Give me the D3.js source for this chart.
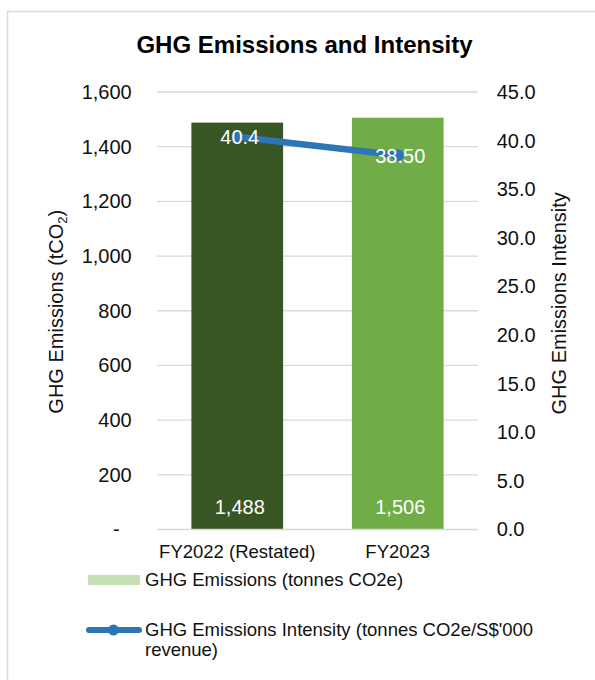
<!DOCTYPE html>
<html>
<head>
<meta charset="utf-8">
<script src="https://cdn.jsdelivr.net/npm/d3@7"></script>
<style>
  html, body { margin: 0; padding: 0; background: #fff; }
  svg { display: block; font-family: "Liberation Sans", Arial, sans-serif; }
</style>
</head>
<body>
<svg id="chart" width="595" height="680"></svg>
<script>
// ---- data ----
const categories = ["FY2022 (Restated)", "FY2023"];
const emissions = [1488, 1506];
const emissionLabels = ["1,488", "1,506"];
const intensity = [40.4, 38.5];
const intensityLabels = ["40.4", "38.50"];
const barColors = ["#375623", "#70AD47"];
const leftTicks = [0, 200, 400, 600, 800, 1000, 1200, 1400, 1600];
const leftTickLabels = ["-", "200", "400", "600", "800", "1,000", "1,200", "1,400", "1,600"];
const rightTicks = [0, 5, 10, 15, 20, 25, 30, 35, 40, 45];
const rightTickLabels = ["0.0", "5.0", "10.0", "15.0", "20.0", "25.0", "30.0", "35.0", "40.0", "45.0"];
const titleText = "GHG Emissions and Intensity";
const legendBarText = "GHG Emissions (tonnes CO2e)";
const legendLineText = ["GHG Emissions Intensity (tonnes CO2e/S$'000", "revenue)"];

// ---- layout ----
const svg = d3.select("#chart");
const plot = { left: 157, right: 478, top: 92, bottom: 529.5 };
const textColor = "#111";
const gridColor = "#d9d9d9";
const lineColor = "#2E75B6";

// frame
svg.append("rect").attr("x", 7.5).attr("y", 11.5).attr("width", 700).attr("height", 800)
  .attr("fill", "#fff").attr("stroke", "#d9d9d9").attr("stroke-width", 1.5);

const x = d3.scaleBand().domain(categories).range([plot.left, plot.right])
  .paddingInner(0.4286).paddingOuter(0.2143);
const yL = d3.scaleLinear().domain([0, 1600]).range([plot.bottom, plot.top]);
const yR = d3.scaleLinear().domain([0, 45]).range([plot.bottom, plot.top]);

// title
svg.append("text").attr("x", 304.5).attr("y", 53.3).attr("text-anchor", "middle")
  .attr("font-size", 24).attr("font-weight", "bold").attr("fill", "#000").text(titleText);

// gridlines
svg.append("g").selectAll("line").data(leftTicks.filter(d => d > 0)).join("line")
  .attr("x1", plot.left).attr("x2", plot.right)
  .attr("y1", d => yL(d)).attr("y2", d => yL(d))
  .attr("stroke", gridColor).attr("stroke-width", 1.3);

// bars
svg.append("g").selectAll("rect").data(categories).join("rect")
  .attr("x", d => x(d)).attr("width", x.bandwidth())
  .attr("y", (d, i) => yL(emissions[i]))
  .attr("height", (d, i) => yL(0) - yL(emissions[i]))
  .attr("fill", (d, i) => barColors[i]);

// baseline axis line
svg.append("line").attr("x1", plot.left).attr("x2", plot.right)
  .attr("y1", yL(0)).attr("y2", yL(0)).attr("stroke", gridColor).attr("stroke-width", 1.6);

// left axis
const gL = svg.append("g").attr("transform", `translate(${plot.left},0)`)
  .call(d3.axisLeft(yL).tickValues(leftTicks).tickFormat((d, i) => leftTickLabels[i])
    .tickSize(0).tickPadding(25.3));
gL.select(".domain").remove();
gL.selectAll("text").attr("font-size", 20).attr("fill", textColor)
  .attr("font-family", "Liberation Sans, Arial, sans-serif")
  .attr("dx", (d, i) => i === 0 ? -12 : 0);

// right axis
const gR = svg.append("g").attr("transform", `translate(${plot.right},0)`)
  .call(d3.axisRight(yR).tickValues(rightTicks).tickFormat((d, i) => rightTickLabels[i])
    .tickSize(0).tickPadding(18.7));
gR.select(".domain").remove();
gR.selectAll("text").attr("font-size", 20).attr("fill", textColor)
  .attr("font-family", "Liberation Sans, Arial, sans-serif");

// category labels
svg.append("g").selectAll("text").data(categories).join("text")
  .attr("x", d => x(d) + x.bandwidth() / 2).attr("y", 558.3)
  .attr("text-anchor", "middle").attr("font-size", 18.5).attr("fill", textColor)
  .text(d => d);

// axis titles
const lt = svg.append("text").attr("transform", "translate(62.5,311.7) rotate(-90)")
  .attr("text-anchor", "middle").attr("font-size", 20).attr("fill", textColor);
lt.append("tspan").text("GHG Emissions (tCO");
lt.append("tspan").attr("font-size", 13).attr("dy", 4).text("2");
lt.append("tspan").attr("dy", -4).text(")");

svg.append("text").attr("transform", "translate(565.5,303.3) rotate(-90)")
  .attr("text-anchor", "middle").attr("font-size", 20).attr("fill", textColor)
  .text("GHG Emissions Intensity");

// bar value labels
svg.append("g").selectAll("text").data(categories).join("text")
  .attr("x", d => x(d) + x.bandwidth() / 2 + 2.5).attr("y", yL(0) - 15.2)
  .attr("text-anchor", "middle").attr("font-size", 20).attr("fill", "#fff")
  .text((d, i) => emissionLabels[i]);

// intensity line
const pts = categories.map((c, i) => [x(c) + x.bandwidth() / 2, yR(intensity[i])]);
svg.append("path").attr("d", d3.line()(pts)).attr("fill", "none")
  .attr("stroke", lineColor).attr("stroke-width", 6.5).attr("stroke-linecap", "round");
svg.append("g").selectAll("circle").data(pts).join("circle")
  .attr("cx", d => d[0]).attr("cy", d => d[1]).attr("r", 6).attr("fill", lineColor);

// intensity labels
svg.append("g").selectAll("text").data(pts).join("text")
  .attr("x", d => d[0] + 2.5).attr("y", d => d[1] + 7.4)
  .attr("text-anchor", "middle").attr("font-size", 20).attr("fill", "#fff")
  .text((d, i) => intensityLabels[i]);

// legend
const leg = svg.append("g");
leg.append("rect").attr("x", 88).attr("y", 575).attr("width", 52).attr("height", 10).attr("fill", "#C5E0B4");
leg.append("text").attr("x", 145).attr("y", 585.6).attr("font-size", 18.5).attr("fill", textColor).text(legendBarText);
leg.append("line").attr("x1", 89).attr("x2", 139).attr("y1", 630).attr("y2", 630)
  .attr("stroke", lineColor).attr("stroke-width", 6).attr("stroke-linecap", "round");
leg.append("circle").attr("cx", 113.5).attr("cy", 630).attr("r", 5.5).attr("fill", lineColor);
leg.selectAll("text.l2").data(legendLineText).join("text").attr("class", "l2")
  .attr("x", 145).attr("y", (d, i) => 635.7 + i * 20.5)
  .attr("font-size", 18.5).attr("fill", textColor).text(d => d);
</script>
</body>
</html>
